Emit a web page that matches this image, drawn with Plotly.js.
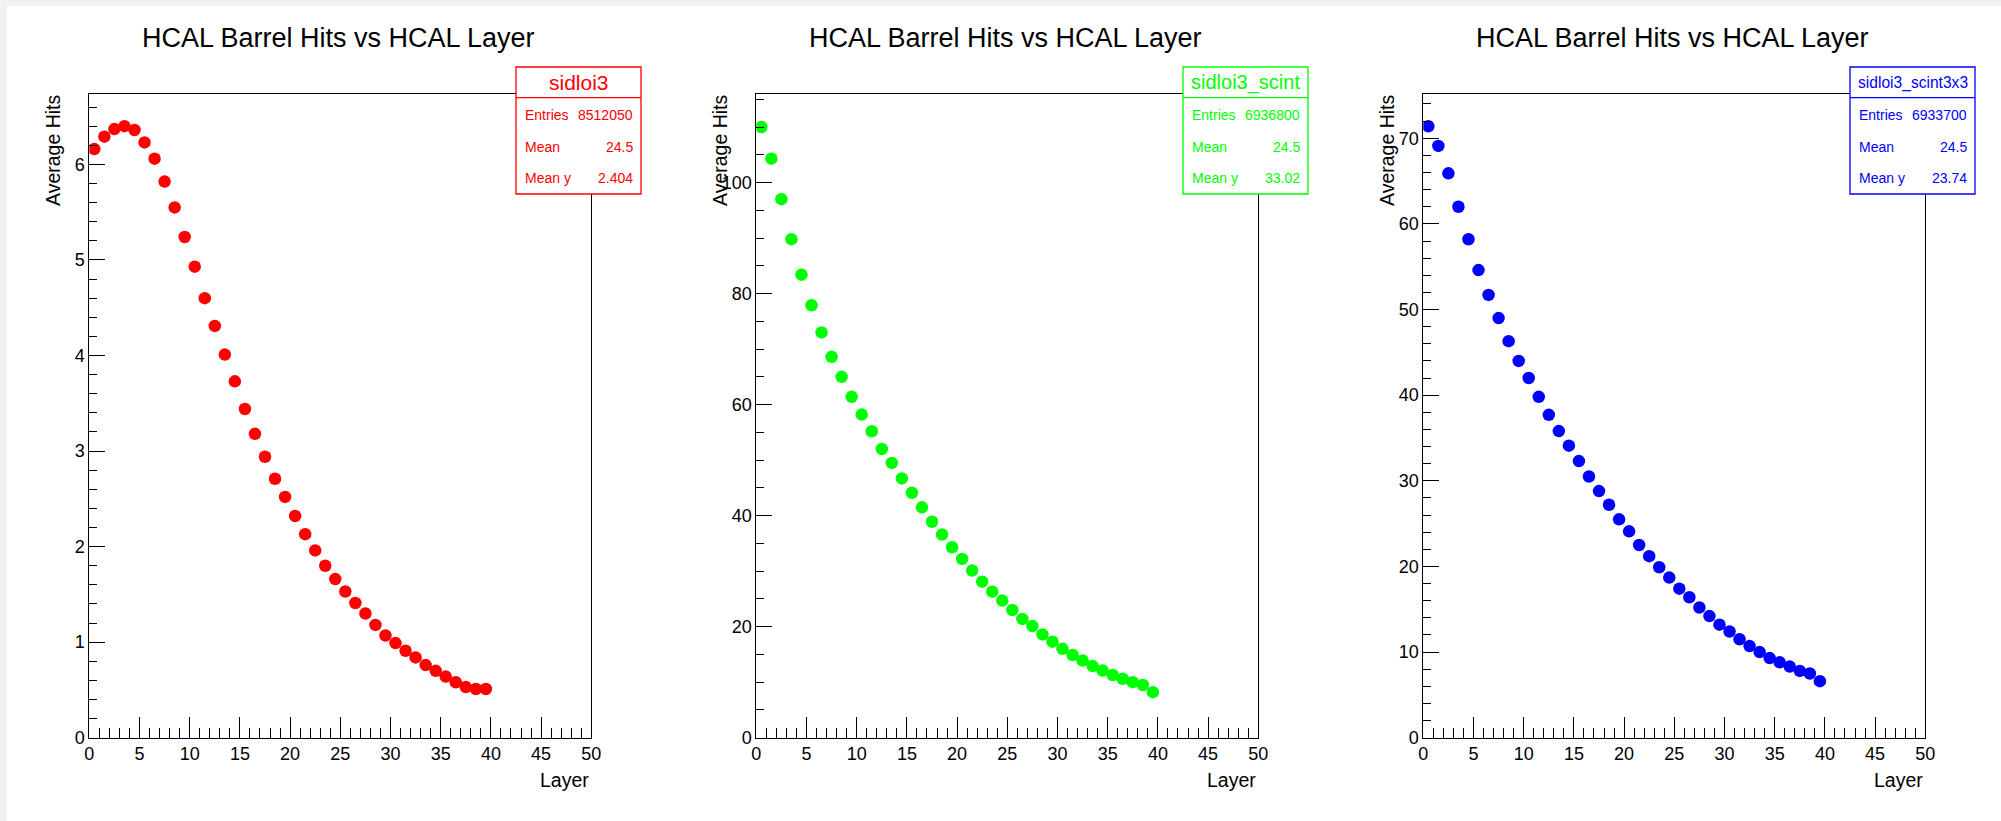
<!DOCTYPE html>
<html>
<head>
<meta charset="utf-8">
<script src="https://cdn.plot.ly/plotly-3.0.1.min.js"></script>
<style>
  html, body { margin: 0; padding: 0; background: #ffffff; }
  #chart { width: 2001px; height: 821px; }
</style>
</head>
<body>
<div id="chart"></div>
<script>
// ---- data ----
const layers = [0.5,1.5,2.5,3.5,4.5,5.5,6.5,7.5,8.5,9.5,10.5,11.5,12.5,13.5,14.5,15.5,16.5,17.5,18.5,19.5,
                20.5,21.5,22.5,23.5,24.5,25.5,26.5,27.5,28.5,29.5,30.5,31.5,32.5,33.5,34.5,35.5,36.5,37.5,38.5,39.5];

const sidloi3 = [6.16,6.29,6.37,6.40,6.36,6.23,6.06,5.82,5.55,5.24,4.93,4.60,4.31,4.01,3.73,3.44,3.18,2.94,2.71,2.52,
                 2.32,2.13,1.96,1.80,1.66,1.53,1.41,1.30,1.18,1.07,0.99,0.91,0.84,0.76,0.70,0.64,0.58,0.53,0.51,0.51];

const sidloi3_scint = [110.0,104.3,97.0,89.8,83.4,77.9,73.0,68.6,65.0,61.4,58.2,55.2,52.0,49.5,46.7,44.1,41.5,38.9,36.6,34.3,
                       32.2,30.1,28.1,26.3,24.7,23.0,21.4,20.1,18.6,17.3,16.0,14.9,13.9,12.9,12.1,11.3,10.6,10.0,9.5,8.2];

const sidloi3_scint3x3 = [71.4,69.1,65.9,62.0,58.2,54.6,51.7,49.0,46.3,44.0,42.0,39.8,37.7,35.8,34.1,32.3,30.5,28.8,27.2,25.5,
                          24.1,22.5,21.2,19.9,18.7,17.4,16.4,15.2,14.2,13.2,12.4,11.5,10.7,10.0,9.3,8.8,8.3,7.8,7.5,6.6];

const seriesNames = ["sidloi3", "sidloi3_scint", "sidloi3_scint3x3"];
const entries = ["8512050", "6936800", "6933700"];
const means = ["24.5", "24.5", "24.5"];
const meanYs = ["2.404", "33.02", "23.74"];
const plotTitle = "HCAL Barrel Hits vs HCAL Layer";
const xTitle = "Layer";
const yTitle = "Average Hits";

// ---- styling ----
const W = 2001, H = 821;
const FONT = "'Liberation Sans', Arial, Helvetica, sans-serif";
const colors = ["#ff0000", "#00ff00", "#0000ff"];
const yMax = [6.74, 116, 75.2];
const yDtick = [1, 20, 10];
const yMinor = [0.2, 5, 2];
const statTitleSize = [21, 20, 15.6];
const seriesData = [sidloi3, sidloi3_scint, sidloi3_scint3x3];
const offsets = [0, 667, 1334];

const X = p => p / W;
const Y = q => 1 - q / H;

const frameL = 89.3, frameR = 591.3, frameT = 93.7, frameB = 737.7;

const data = [];
const layout = {
  width: W, height: H,
  margin: {l: 0, r: 0, t: 0, b: 0},
  paper_bgcolor: "#ffffff",
  plot_bgcolor: "#ffffff",
  showlegend: false,
  font: {family: FONT, color: "#000000"},
  annotations: [],
  shapes: [
    {type: "rect", xref: "paper", yref: "paper", x0: 0, x1: X(7), y0: 0, y1: 1,
     fillcolor: "#f2f2f2", line: {width: 0}, layer: "below"},
    {type: "rect", xref: "paper", yref: "paper", x0: 0, x1: 1, y0: Y(6), y1: 1,
     fillcolor: "#f2f2f2", line: {width: 0}, layer: "below"}
  ]
};

for (let i = 0; i < 3; i++) {
  const o = offsets[i];
  const sx = i === 0 ? "" : String(i + 1);
  const xa = "xaxis" + sx, ya = "yaxis" + sx;

  data.push({
    type: "scatter", mode: "markers",
    x: layers, y: seriesData[i],
    xaxis: "x" + sx, yaxis: "y" + sx,
    marker: {color: colors[i], size: 12.5, line: {width: 0}},
    hoverinfo: "x+y"
  });

  layout[xa] = {
    domain: [X(o + frameL), X(o + frameR)],
    anchor: "y" + sx,
    range: [0, 50], dtick: 5, tick0: 0,
    ticks: "inside", ticklen: 21, tickwidth: 1, tickcolor: "#000000",
    minor: {dtick: 1, ticks: "inside", ticklen: 10, tickwidth: 1, tickcolor: "#000000", showgrid: false},
    showline: true, linecolor: "#000000", linewidth: 1, mirror: true,
    showgrid: false, zeroline: false, fixedrange: true,
    tickfont: {family: FONT, size: 18, color: "#000000"}
  };
  layout[ya] = {
    domain: [Y(frameB), Y(frameT)],
    anchor: "x" + sx,
    range: [0, yMax[i]], dtick: yDtick[i], tick0: 0,
    ticks: "inside", ticklen: 16, tickwidth: 1, tickcolor: "#000000",
    minor: {dtick: yMinor[i], ticks: "inside", ticklen: 8, tickwidth: 1, tickcolor: "#000000", showgrid: false},
    showline: true, linecolor: "#000000", linewidth: 1, mirror: true,
    showgrid: false, zeroline: false, fixedrange: true,
    tickfont: {family: FONT, size: 18, color: "#000000"}
  };

  layout.annotations.push({
    xref: "paper", yref: "paper", x: X(o + 338.3), y: Y(38), xanchor: "center", yanchor: "middle",
    text: plotTitle, showarrow: false, font: {family: FONT, size: 27, color: "#000000"}
  });
  layout.annotations.push({
    xref: "paper", yref: "paper", x: X(o + 591), y: Y(780), xanchor: "right", yanchor: "middle",
    text: xTitle, showarrow: false, font: {family: FONT, size: 19.5, color: "#000000"}
  });
  layout.annotations.push({
    xref: "paper", yref: "paper", x: X(o + 53), y: Y(150), xanchor: "center", yanchor: "middle",
    textangle: -90, text: yTitle, showarrow: false, font: {family: FONT, size: 19.5, color: "#000000"}
  });

  const bx0 = o + 516, bx1 = o + 641, by0 = 67, by1 = 194, bsep = 97.7;
  layout.shapes.push({
    type: "rect", xref: "paper", yref: "paper", x0: X(bx0), x1: X(bx1), y0: Y(by1), y1: Y(by0),
    fillcolor: "#ffffff", line: {color: colors[i], width: 1.3}, layer: "above"
  });
  layout.shapes.push({
    type: "line", xref: "paper", yref: "paper", x0: X(bx0), x1: X(bx1), y0: Y(bsep), y1: Y(bsep),
    line: {color: colors[i], width: 1.3}, layer: "above"
  });
  layout.annotations.push({
    xref: "paper", yref: "paper", x: X((bx0 + bx1) / 2), y: Y(82.5), xanchor: "center", yanchor: "middle",
    text: seriesNames[i], showarrow: false, font: {family: FONT, size: statTitleSize[i], color: colors[i]}
  });
  const rowLabels = ["Entries", "Mean", "Mean y"];
  const rowVals = [entries[i], means[i], meanYs[i]];
  const rowY = [115, 146.7, 178];
  for (let r = 0; r < 3; r++) {
    layout.annotations.push({
      xref: "paper", yref: "paper", x: X(o + 522.5), y: Y(rowY[r]), xanchor: "left", yanchor: "middle",
      text: rowLabels[r], showarrow: false, font: {family: FONT, size: 14, color: colors[i]}
    });
    layout.annotations.push({
      xref: "paper", yref: "paper", x: X(o + 634.5), y: Y(rowY[r]), xanchor: "right", yanchor: "middle",
      text: rowVals[r], showarrow: false, font: {family: FONT, size: 14, color: colors[i]}
    });
  }
}

Plotly.newPlot("chart", data, layout, {displayModeBar: false, staticPlot: true});
</script>
</body>
</html>
